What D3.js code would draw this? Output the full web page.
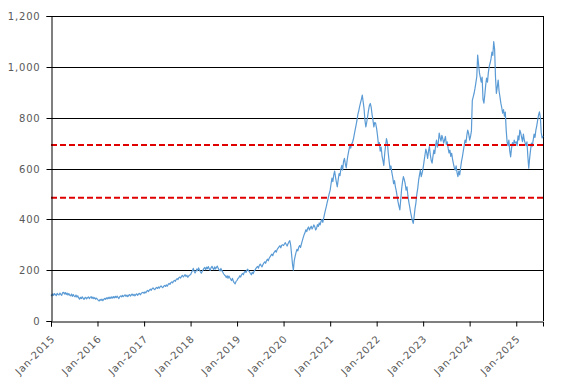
<!DOCTYPE html>
<html><head><meta charset="utf-8">
<script src="https://cdn.jsdelivr.net/npm/d3@7"></script>
<style>html,body{margin:0;padding:0;background:#fff;}svg{display:block;}</style>
</head><body>
<svg id="chart" width="571" height="385"></svg>
<script>
// Weekly closing values, one array per year (week i = Jan 1 + 7*i days)
const v2015 = [104,99,107,101,108,103,100,109,104,102,110,105,101,111,113,106,112,104,110,102,108,101,99,106,97,104,98,95,102,94,99,91,86,93,88,95,90,85,91,93,87,92,95,88,93,96,89,94,88,92,86,90];
const v2016 = [85,81,79,85,81,86,80,85,89,85,91,87,93,88,94,89,95,90,96,91,97,92,98,93,88,96,99,95,101,96,100,103,97,102,96,101,104,98,103,106,100,105,99,104,107,101,106,109,103,108,111,113];
const v2017 = [109,115,111,117,120,116,122,125,121,127,130,126,123,129,132,128,134,129,135,138,134,131,137,140,136,142,137,144,148,144,151,154,150,157,160,156,163,167,163,170,173,169,176,179,173,178,182,175,180,172,177,181];
const v2018 = [182,191,198,207,196,189,196,205,198,209,201,194,188,195,201,207,211,202,212,206,214,205,199,210,215,208,202,213,205,211,216,207,201,197,207,199,193,186,181,178,171,178,168,177,170,164,159,168,156,150,146,156];
const v2019 = [160,167,170,178,173,182,187,182,191,196,191,200,204,197,193,187,182,192,186,195,200,206,211,215,208,219,224,218,213,222,228,233,227,237,243,237,247,252,258,263,257,267,272,277,271,282,287,292,296,288,298,300];
const v2020 = [297,303,308,301,295,304,311,316,298,262,224,200,238,255,270,282,276,290,297,289,303,315,328,339,347,359,352,364,370,358,366,373,362,369,378,371,358,364,379,372,386,378,392,399,388,405,421,437,451,468,482,498];
const v2021 = [515,540,562,548,575,590,566,545,528,556,580,572,598,612,594,628,640,618,602,632,654,672,688,680,696,702,715,733,752,770,788,812,826,843,858,872,889,862,835,790,764,782,805,829,848,856,841,812,790,764,781,778];
const v2022 = [756,728,695,702,668,684,650,632,612,658,690,718,702,660,628,598,610,585,566,540,552,528,512,489,468,452,437,478,520,548,568,556,540,515,528,494,470,450,428,412,396,384,410,442,464,498,520,552,574,594,568,582];
const v2023 = [602,628,652,676,662,640,668,686,655,632,621,648,672,658,690,712,684,702,739,722,708,730,718,700,712,726,694,705,680,661,672,648,660,636,618,602,594,610,584,568,590,575,602,628,646,668,690,712,702,730,751,738];
const v2024 = [712,726,748,868,882,896,915,938,961,1046,1010,976,958,940,960,872,857,890,928,956,940,978,1002,1015,1032,1058,1045,1099,1070,960,895,920,948,905,882,857,840,818,832,806,822,751,705,690,712,668,646,680,702,690,712,700];
const v2025 = [705,690,728,712,751,740,722,706,735,712,700,690,705,648,601,640,672,700,688,712,735,722,751,768,790,810,823,803,742,720,728];
const years = [2015,2016,2017,2018,2019,2020,2021,2022,2023,2024,2025];
const yearValues = [v2015,v2016,v2017,v2018,v2019,v2020,v2021,v2022,v2023,v2024,v2025];
const yTicks = [0,200,400,600,800,1000,1200];
const refLines = [692, 485];
const xTickLabels = ["Jan-2015","Jan-2016","Jan-2017","Jan-2018","Jan-2019","Jan-2020","Jan-2021","Jan-2022","Jan-2023","Jan-2024","Jan-2025"];

(function () {
const data = [];
years.forEach((yr, k) => {
  yearValues[k].forEach((v, i) => {
    data.push({date: new Date(yr, 0, 1 + 7 * i), value: v});
  });
});

const svg = d3.select("#chart");
const mL = 51, mR = 543, mT = 16, mB = 321;
const x = d3.scaleTime().domain([new Date(2015,0,1), data[data.length-1].date]).range([mL, mR]);
const y = d3.scaleLinear().domain([0, 1200]).range([mB, mT]);

// gridlines
svg.append("g").selectAll("line").data(yTicks.filter(d => d > 0)).join("line")
  .attr("x1", mL).attr("x2", mR)
  .attr("y1", d => Math.round(y(d)) + 0.5).attr("y2", d => Math.round(y(d)) + 0.5)
  .attr("stroke", "#000").attr("stroke-width", 1);

// right border
svg.append("line").attr("x1", mR + 0.5).attr("x2", mR + 0.5)
  .attr("y1", mT).attr("y2", mB).attr("stroke", "#000");

// series line
svg.append("path").datum(data)
  .attr("fill", "none").attr("stroke", "#5b9bd5").attr("stroke-width", 1.2)
  .attr("stroke-linejoin", "round")
  .attr("d", d3.line().x(d => x(d.date)).y(d => y(d.value)));

// reference dashed lines
svg.append("g").selectAll("line").data(refLines).join("line")
  .attr("x1", mL).attr("x2", mR)
  .attr("y1", d => y(d)).attr("y2", d => y(d))
  .attr("stroke", "#e00000").attr("stroke-width", 2).attr("stroke-dasharray", "6,3");

// y axis
const yAxis = d3.axisLeft(y).tickValues(yTicks).tickFormat(d3.format(",")).tickSize(5).tickPadding(6);
const gy = svg.append("g").attr("transform", `translate(${mL + 0.5},0)`).call(yAxis);
gy.selectAll("path.domain").attr("stroke", "#000");
gy.selectAll(".tick line").attr("stroke", "#000");
gy.selectAll(".tick").attr("transform", d => `translate(0,${Math.round(y(d)) + 0.5})`);
gy.selectAll("text").attr("fill", "#595959").attr("font-family", "DejaVu Sans, Verdana, sans-serif")
  .attr("font-size", 10).attr("letter-spacing", 0.8);

// x axis
const xTickDates = years.map(yr => new Date(yr, 0, 1));
const xAxis = d3.axisBottom(x).tickValues(xTickDates).tickFormat((d, i) => xTickLabels[i]).tickSize(5);
const gx = svg.append("g").attr("transform", `translate(0,${mB + 0.5})`).call(xAxis);
gx.selectAll("path.domain").attr("stroke", "#000");
gx.selectAll(".tick line").attr("stroke", "#000");
gx.selectAll("text")
  .attr("fill", "#595959").attr("font-family", "DejaVu Sans, Verdana, sans-serif")
  .attr("font-size", 10).attr("letter-spacing", 0.8)
  .attr("text-anchor", "end").attr("dy", null).attr("y", 0).attr("x", 0)
  .attr("transform", "translate(4,18) rotate(-45)");
})();
</script>
</body></html>
